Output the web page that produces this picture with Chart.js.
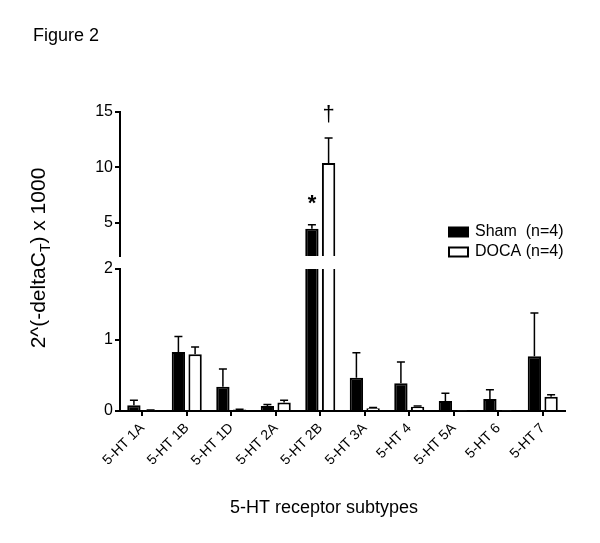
<!DOCTYPE html>
<html>
<head>
<meta charset="utf-8">
<script src="https://cdn.jsdelivr.net/npm/chart.js@4/dist/chart.umd.min.js"></script>
<style>
  html, body { margin: 0; padding: 0; background: #fff; }
  #wrap { width: 600px; height: 543px; }
</style>
</head>
<body>
<div id="wrap"><canvas id="chart" width="600" height="543"></canvas></div>
<script>
// receptor subtypes on the x axis
const subtypes = ["5-HT 1A", "5-HT 1B", "5-HT 1D", "5-HT 2A", "5-HT 2B",
                  "5-HT 3A", "5-HT 4", "5-HT 5A", "5-HT 6", "5-HT 7"];

// means and SEM
const shamMean = [0.08, 0.83, 0.34, 0.07, 4.45, 0.47, 0.39, 0.14, 0.17, 0.77];
const shamErr  = [0.07, 0.22, 0.25, 0.02, 0.37, 0.35, 0.30, 0.11, 0.13, 0.61];
const docaMean = [0.01, 0.80, 0.02, 0.12, 10.4, 0.04, 0.06, 0.01, 0.01, 0.20];
const docaErr  = [0.005, 0.10, 0.005, 0.03, 2.25, 0.01, 0.01, 0, 0, 0.03];

// significance marks
const shamMarks = ["", "", "", "", "*", "", "", "", "", ""];
const docaMarks = ["", "", "", "", "\u2020", "", "", "", "", ""];

// broken y axis: lower segment and upper segment
const lowTicks = [0, 1, 2];
const highTicks = [5, 10, 15];
const breakAt = 2;

const FONT = "'Liberation Sans', Arial, sans-serif";

// only the values above the break go on the upper axis
const above = arr => arr.map(v => (v > breakAt ? v : null));

// clip every dataset to its own y segment and draw the error bars
const brokenAxis = {
    id: "brokenAxis",
    beforeDatasetDraw(chart, args) {
        const s = chart.scales[args.meta.yAxisID];
        const {ctx, chartArea} = chart;
        ctx.save();
        ctx.beginPath();
        ctx.rect(chartArea.left, s.top, chartArea.width, s.bottom - s.top);
        ctx.clip();
    },
    afterDatasetDraw(chart, args) {
        const {ctx} = chart;
        const ds = chart.data.datasets[args.index];
        const s = chart.scales[args.meta.yAxisID];
        ctx.strokeStyle = "#000";
        ctx.lineWidth = 1.5;
        args.meta.data.forEach((bar, i) => {
            const v = ds.data[i];
            const e = ds.errors[i];
            if (v == null || !e) return;
            const y0 = s.getPixelForValue(v);
            const y1 = s.getPixelForValue(v + e);
            ctx.beginPath();
            ctx.moveTo(bar.x, y0);
            ctx.lineTo(bar.x, y1);
            ctx.moveTo(bar.x - 4, y1);
            ctx.lineTo(bar.x + 4, y1);
            ctx.stroke();
        });
        ctx.restore();
    },
    afterDraw(chart) {
        const {ctx} = chart;
        const hi = chart.scales.yHigh;
        ctx.save();
        ctx.fillStyle = "#000";

        // asterisk / dagger above the error bars
        const marks = [[2, shamMarks, shamMean, shamErr], [3, docaMarks, docaMean, docaErr]];
        ctx.textAlign = "center";
        ctx.textBaseline = "middle";
        marks.forEach(([di, m, mean, err]) => {
            const meta = chart.getDatasetMeta(di);
            m.forEach((txt, i) => {
                if (!txt) return;
                const y = hi.getPixelForValue(mean[i] + err[i]) - 24;
                ctx.font = (txt === "*" ? "bold 22px " : "22px ") + FONT;
                ctx.fillText(txt, meta.data[i].x, y + (txt === "*" ? 3 : 1));
            });
        });

        // figure label
        ctx.textAlign = "left";
        ctx.textBaseline = "alphabetic";
        ctx.font = "18px " + FONT;
        ctx.fillText("Figure 2", 33, 41);

        // x axis title
        ctx.textAlign = "center";
        ctx.fillText("5-HT receptor subtypes", 324, 513);

        // y axis title with subscript T
        ctx.translate(45, 258);
        ctx.rotate(-Math.PI / 2);
        const a = "2^(-deltaC", sub = "T", b = ") x 1000";
        ctx.font = "21px " + FONT;
        const wa = ctx.measureText(a).width, wb = ctx.measureText(b).width;
        ctx.font = "14px " + FONT;
        const ws = ctx.measureText(sub).width;
        let x = -(wa + ws + wb) / 2;
        ctx.textAlign = "left";
        ctx.font = "21px " + FONT;
        ctx.fillText(a, x, 0);
        x += wa;
        ctx.font = "14px " + FONT;
        ctx.fillText(sub, x, 5);
        x += ws;
        ctx.font = "21px " + FONT;
        ctx.fillText(b, x, 0);
        ctx.restore();

        // legend
        ctx.save();
        ctx.font = "16px " + FONT;
        ctx.textBaseline = "middle";
        ctx.textAlign = "left";
        [chart.data.datasets[0], chart.data.datasets[1]].forEach((ds, k) => {
            const cy = 232 + k * 20;
            ctx.fillStyle = ds.backgroundColor;
            ctx.fillRect(449, cy - 4.5, 19, 9);
            ctx.strokeStyle = "#000";
            ctx.lineWidth = 2;
            ctx.strokeRect(449, cy - 4.5, 19, 9);
            ctx.fillStyle = "#000";
            ctx.fillText(ds.label, 475, cy);
        });
        ctx.restore();
    }
};

const yCommon = {
    type: "linear",
    position: "left",
    stack: "broken",
    stacked: false,
    grid: {drawOnChartArea: false, drawTicks: true, tickLength: 5, color: "#000", lineWidth: 2},
    border: {display: true, color: "#000", width: 2},
    ticks: {color: "#000", font: {family: FONT, size: 16}, padding: 2},
    afterFit: s => { s.width = 45; }
};

new Chart(document.getElementById("chart"), {
    type: "bar",
    data: {
        labels: subtypes,
        datasets: [
            {label: "Sham  (n=4)", data: shamMean, errors: shamErr, yAxisID: "yLow", stack: "sham",
             backgroundColor: "#000", borderColor: "#000", borderWidth: 2},
            {label: "DOCA (n=4)", data: docaMean, errors: docaErr, yAxisID: "yLow", stack: "doca",
             backgroundColor: "#fff", borderColor: "#000", borderWidth: 2},
            {label: "Sham  (n=4)", data: above(shamMean), errors: shamErr, yAxisID: "yHigh", stack: "sham",
             backgroundColor: "#000", borderColor: "#000", borderWidth: 2},
            {label: "DOCA (n=4)", data: above(docaMean), errors: docaErr, yAxisID: "yHigh", stack: "doca",
             backgroundColor: "#fff", borderColor: "#000", borderWidth: 2}
        ]
    },
    options: {
        responsive: false,
        animation: false,
        layout: {padding: {left: 75, right: 35, top: 112, bottom: 32}},
        datasets: {bar: {categoryPercentage: 0.75, barPercentage: 0.8}},
        plugins: {
            legend: {display: false},
            tooltip: {enabled: false}
        },
        scales: {
            x: {
                type: "category",
                offset: true,
                grid: {display: true, drawOnChartArea: false, offset: false, tickLength: 5, color: "#000", lineWidth: 2},
                border: {display: true, color: "#000", width: 2},
                ticks: {color: "#000", font: {family: FONT, size: 14}, maxRotation: 45, minRotation: 45, padding: 4},
                afterFit: s => { s.height = 100; }
            },
            yLow: {
                ...yCommon,
                stackWeight: 142,
                min: 0,
                max: breakAt,
                afterBuildTicks: s => { s.ticks = lowTicks.map(value => ({value})); }
            },
            yGap: {
                type: "linear",
                position: "left",
                stack: "broken",
                stackWeight: 13,
                grid: {display: false},
                border: {display: false},
                ticks: {display: false},
                afterFit: s => { s.width = 45; }
            },
            yHigh: {
                ...yCommon,
                stackWeight: 144,
                min: breakAt,
                max: 15,
                afterBuildTicks: s => { s.ticks = highTicks.map(value => ({value})); }
            }
        }
    },
    plugins: [brokenAxis]
});
</script>
</body>
</html>
